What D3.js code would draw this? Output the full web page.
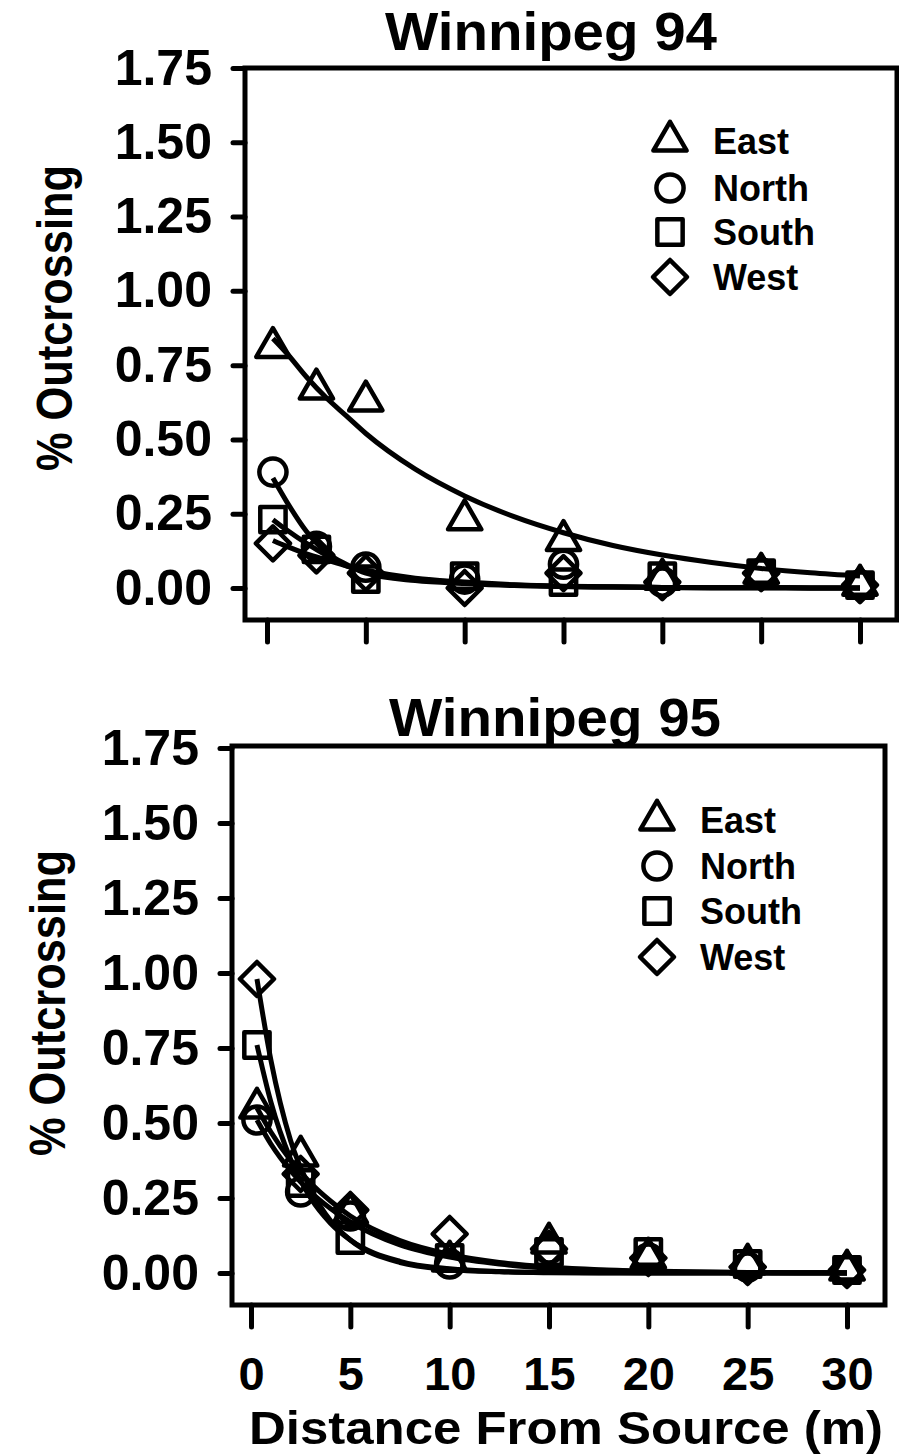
<!DOCTYPE html>
<meta charset="utf-8">
<style type="text/css">
	body {
		margin: 0;
		background: #fff;
	}

	text {
		font-family: "Liberation Sans", Arial, sans-serif;
		font-weight: bold;
		fill: #000;
	}

	.axis .domain {
		display: none;
	}

	.axis line {
		stroke: #000;
		stroke-width: 5px;
		stroke-linecap: round;
	}

	.y.axis text {
		font-size: 50px;
	}

	.x.axis text {
		font-size: 47px;
	}

	.frame {
		fill: none;
		stroke: #000;
		stroke-width: 5px;
	}

	.fit {
		fill: none;
		stroke: #000;
		stroke-width: 5px;
		stroke-linejoin: round;
	}

	.mark {
		fill: none;
		stroke: #000;
		stroke-width: 4.5px;
		stroke-linejoin: round;
	}
</style>

<body>
<div class="g-chart"></div>
</body>

<script src="https://d3js.org/d3.v7.min.js"></script>

<script>
  //Data
  var directions = ["East", "North", "South", "West"];
  var distances = [0.3, 2.5, 5, 10, 15, 20, 25, 30];
  var yTicks = [0, 0.25, 0.5, 0.75, 1, 1.25, 1.5, 1.75];
  var xTicks = [0, 5, 10, 15, 20, 25, 30];

  //Winnipeg 94 observed % outcrossing
  var east94 = [0.81, 0.67, 0.63, 0.23, 0.16, 0.03, 0.05, 0.01];
  var north94 = [0.39, 0.14, 0.07, 0.03, 0.08, 0.02, 0.05, 0.01];
  var south94 = [0.23, 0.13, 0.03, 0.04, 0.02, 0.04, 0.05, 0.01];
  var west94 = [0.15, 0.11, 0.05, 0.00, 0.05, 0.02, 0.05, 0.01];

  //Winnipeg 95 observed % outcrossing
  var east95 = [0.55, 0.39, 0.20, 0.04, 0.10, 0.05, 0.03, 0.01];
  var north95 = [0.51, 0.27, 0.19, 0.03, 0.08, 0.05, 0.02, 0.01];
  var south95 = [0.76, 0.30, 0.11, 0.05, 0.07, 0.07, 0.03, 0.01];
  var west95 = [0.98, 0.33, 0.21, 0.13, 0.08, 0.05, 0.02, 0.01];

  //Fitted curves, read at these distances
  var curveX = [0.3, 1, 2, 3, 4, 5, 7.5, 10, 12.5, 15, 17.5, 20, 22.5, 25, 27.5, 30];
  var eastFit94 = [0.84, 0.79, 0.71, 0.64, 0.58, 0.52, 0.40, 0.31, 0.24, 0.186, 0.143, 0.111, 0.086, 0.066, 0.051, 0.04];
  var northFit94 = [0.37, 0.29, 0.19, 0.12, 0.08, 0.05, 0.025, 0.015, 0.008, 0.005, 0.003, 0.002, 0.001, 0.001, 0, 0];
  var southFit94 = [0.23, 0.195, 0.15, 0.11, 0.075, 0.055, 0.03, 0.018, 0.01, 0.005, 0.003, 0.002, 0.001, 0.001, 0, 0];
  var westFit94 = [0.16, 0.14, 0.115, 0.095, 0.075, 0.06, 0.033, 0.02, 0.011, 0.006, 0.004, 0.002, 0.001, 0.001, 0, 0];

  var eastFit95 = [0.55, 0.47, 0.375, 0.30, 0.24, 0.19, 0.108, 0.062, 0.035, 0.02, 0.011, 0.0065, 0.0037, 0.002, 0.001, 0.0007];
  var northFit95 = [0.51, 0.43, 0.34, 0.27, 0.215, 0.17, 0.094, 0.053, 0.03, 0.016, 0.009, 0.005, 0.003, 0.0015, 0.001, 0];
  var southFit95 = [0.76, 0.57, 0.378, 0.25, 0.166, 0.11, 0.039, 0.014, 0.005, 0.002, 0.001, 0, 0, 0, 0, 0];
  var westFit95 = [0.98, 0.71, 0.44, 0.28, 0.175, 0.11, 0.035, 0.012, 0.004, 0.001, 0, 0, 0, 0, 0, 0];

  //Panel layouts (pixels)
  var panels = [
    {
      title: "Winnipeg 94", titleX: 551, titleY: 50,
      left: 245, right: 897, top: 68, bottom: 620,
      x0: 267, x1: 860, y0: 588, y1: 68,
      labelX: 72, labelY: 318,
      legX: 670, legRows: [141, 188, 232, 277],
      xLabels: false,
      obs: [east94, north94, south94, west94],
      fits: [eastFit94, northFit94, southFit94, westFit94]
    },
    {
      title: "Winnipeg 95", titleX: 555, titleY: 736,
      left: 232, right: 885, top: 746, bottom: 1305,
      x0: 251, x1: 847, y0: 1273, y1: 748,
      labelX: 65, labelY: 1003,
      legX: 657, legRows: [820, 866, 911, 957],
      xLabels: true,
      obs: [east95, north95, south95, west95],
      fits: [eastFit95, northFit95, southFit95, westFit95]
    }
  ];

  var svg = d3.select(".g-chart").append("svg")
    .attr("width", 899)
    .attr("height", 1456);

  //Marker shapes per direction
  var shapes = [
    d3.symbol().type(d3.symbolTriangle).size(480),
    d3.symbol().type(d3.symbolCircle).size(580),
    d3.symbol().type(d3.symbolSquare).size(640),
    d3.symbol().type(d3.symbolSquare).size(580)
  ];
  var rotations = [0, 0, 0, 45];

  panels.forEach(function(p) {
    var g = svg.append("g");

    var xScale = d3.scaleLinear().domain([0, 30]).range([p.x0, p.x1]);
    var yScale = d3.scaleLinear().domain([0, 1.75]).range([p.y0, p.y1]);

    //Frame
    g.append("rect")
      .attr("class", "frame")
      .attr("x", p.left)
      .attr("y", p.top)
      .attr("width", p.right - p.left)
      .attr("height", p.bottom - p.top);

    //Y axis
    g.append("g")
      .attr("class", "y axis")
      .attr("transform", "translate(" + p.left + ",0)")
      .call(d3.axisLeft(yScale)
        .tickValues(yTicks)
        .tickSize(12)
        .tickPadding(21)
        .tickFormat(d3.format(".2f")));

    //X axis
    var xAxis = d3.axisBottom(xScale)
      .tickValues(xTicks)
      .tickSize(22)
      .tickPadding(30);
    if (!p.xLabels) xAxis.tickFormat("");
    g.append("g")
      .attr("class", "x axis")
      .attr("transform", "translate(0," + p.bottom + ")")
      .call(xAxis);

    //Title
    g.append("text")
      .attr("x", p.titleX)
      .attr("y", p.titleY)
      .attr("text-anchor", "middle")
      .attr("textLength", 332)
      .attr("lengthAdjust", "spacingAndGlyphs")
      .style("font-size", "54px")
      .text(p.title);

    //Y label
    g.append("text")
      .attr("transform", "translate(" + p.labelX + "," + p.labelY + ") rotate(-90)")
      .attr("text-anchor", "middle")
      .attr("textLength", 306)
      .attr("lengthAdjust", "spacingAndGlyphs")
      .style("font-size", "50px")
      .text("% Outcrossing");

    //Fitted curves
    var line = d3.line()
      .x(function(d) { return xScale(d[0]); })
      .y(function(d) { return yScale(d[1]); })
      .curve(d3.curveMonotoneX);

    p.fits.forEach(function(fit) {
      g.append("path")
        .attr("class", "fit")
        .attr("d", line(fit.map(function(v, i) { return [curveX[i], v]; })));
    });

    //Observed points
    p.obs.forEach(function(vals, k) {
      g.selectAll("path.m" + k)
        .data(vals)
        .enter()
        .append("path")
        .attr("class", "mark m" + k)
        .attr("d", shapes[k])
        .attr("transform", function(d, i) {
          return "translate(" + xScale(distances[i]) + "," + yScale(d) + ") rotate(" + rotations[k] + ")";
        });
    });

    //Legend
    var leg = g.selectAll("g.leg")
      .data(directions)
      .enter()
      .append("g")
      .attr("class", "leg")
      .attr("transform", function(d, i) { return "translate(" + p.legX + "," + p.legRows[i] + ")"; });

    leg.append("path")
      .attr("class", "mark")
      .attr("d", function(d, i) { return shapes[i](); })
      .attr("transform", function(d, i) { return "rotate(" + rotations[i] + ")"; });

    leg.append("text")
      .attr("x", 43)
      .attr("y", 13)
      .style("font-size", "36px")
      .text(function(d) { return d; });
  });

  //Bottom x label
  svg.append("text")
    .attr("x", 566)
    .attr("y", 1444)
    .attr("text-anchor", "middle")
    .attr("textLength", 634)
    .attr("lengthAdjust", "spacingAndGlyphs")
    .style("font-size", "47px")
    .text("Distance From Source (m)");
</script>
